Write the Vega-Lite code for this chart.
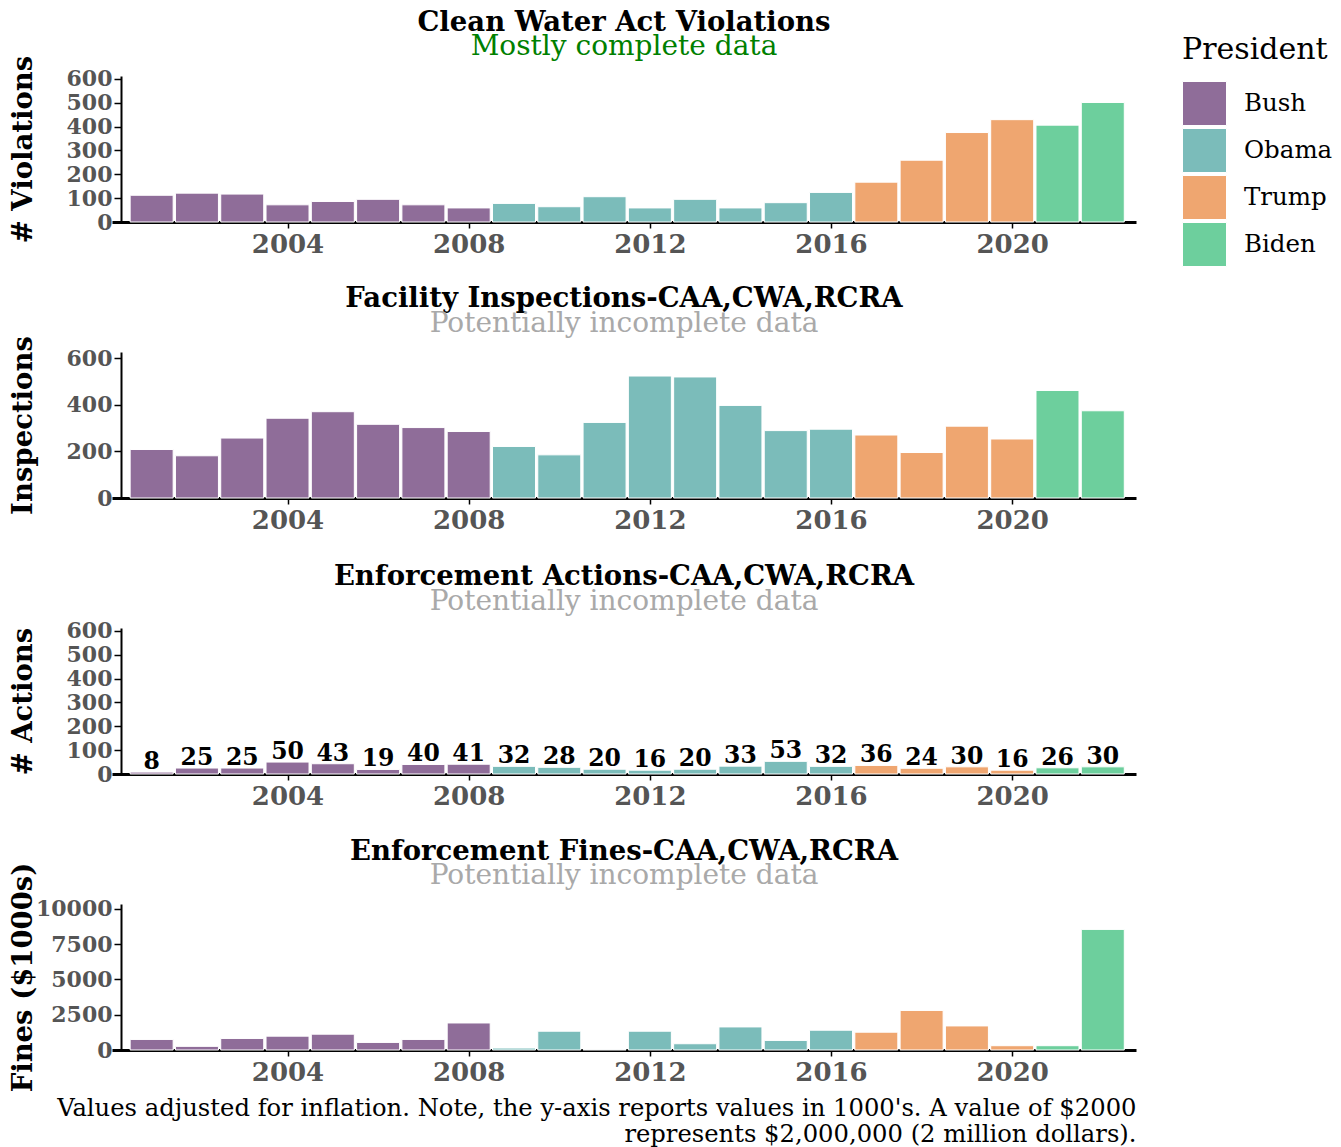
{
  "$schema": "https://vega.github.io/schema/vega-lite/v6.json",
  "background": "white",
  "padding": {"left": 9, "top": 8, "right": 5, "bottom": 2},
  "bounds": "flush",
  "spacing": 130,
  "data": {"values": [
    {"year": 2001, "president": "Bush", "violations": 112, "inspections": 208, "actions": 8, "fines": 748},
    {"year": 2002, "president": "Bush", "violations": 121, "inspections": 181, "actions": 25, "fines": 257},
    {"year": 2003, "president": "Bush", "violations": 117, "inspections": 257, "actions": 25, "fines": 818},
    {"year": 2004, "president": "Bush", "violations": 72, "inspections": 342, "actions": 50, "fines": 981},
    {"year": 2005, "president": "Bush", "violations": 86, "inspections": 370, "actions": 43, "fines": 1121},
    {"year": 2006, "president": "Bush", "violations": 95, "inspections": 316, "actions": 19, "fines": 537},
    {"year": 2007, "president": "Bush", "violations": 72, "inspections": 302, "actions": 40, "fines": 748},
    {"year": 2008, "president": "Bush", "violations": 59, "inspections": 285, "actions": 41, "fines": 1916},
    {"year": 2009, "president": "Obama", "violations": 78, "inspections": 221, "actions": 32, "fines": 140},
    {"year": 2010, "president": "Obama", "violations": 64, "inspections": 185, "actions": 28, "fines": 1332},
    {"year": 2011, "president": "Obama", "violations": 106, "inspections": 324, "actions": 20, "fines": 30},
    {"year": 2012, "president": "Obama", "violations": 59, "inspections": 523, "actions": 16, "fines": 1332},
    {"year": 2013, "president": "Obama", "violations": 95, "inspections": 519, "actions": 20, "fines": 444},
    {"year": 2014, "president": "Obama", "violations": 59, "inspections": 397, "actions": 33, "fines": 1636},
    {"year": 2015, "president": "Obama", "violations": 81, "inspections": 289, "actions": 53, "fines": 678},
    {"year": 2016, "president": "Obama", "violations": 124, "inspections": 295, "actions": 32, "fines": 1402},
    {"year": 2017, "president": "Trump", "violations": 167, "inspections": 270, "actions": 36, "fines": 1262},
    {"year": 2018, "president": "Trump", "violations": 259, "inspections": 195, "actions": 24, "fines": 2804},
    {"year": 2019, "president": "Trump", "violations": 375, "inspections": 308, "actions": 30, "fines": 1706},
    {"year": 2020, "president": "Trump", "violations": 429, "inspections": 253, "actions": 16, "fines": 304},
    {"year": 2021, "president": "Biden", "violations": 406, "inspections": 461, "actions": 26, "fines": 304},
    {"year": 2022, "president": "Biden", "violations": 501, "inspections": 374, "actions": 30, "fines": 8550}
  ]},
  "config": {
    "font": "DejaVu Serif",
    "view": {"stroke": null},
    "axis": {"grid": false, "domainColor": "black", "tickColor": "black", "labelColor": "#555555", "labelFont": "DejaVu Serif", "labelFontWeight": "bold", "titleFont": "DejaVu Serif", "titleFontWeight": "bold", "titleColor": "black", "titleFontSize": 27.5},
    "axisX": {"labelFontSize": 26, "domainWidth": 3, "tickSize": 6, "tickWidth": 1.5, "labelPadding": 3, "labelFlush": false},
    "axisY": {"labelFontSize": 22, "domainWidth": 2, "tickSize": 7, "tickWidth": 1.5, "labelPadding": 2, "offset": -9, "titleX": -98, "titleY": 73, "titleBaseline": "middle", "titleAngle": 270},
    "title": {"font": "DejaVu Serif", "fontSize": 27.5, "fontWeight": "bold", "color": "black", "subtitleFont": "DejaVu Serif", "subtitleFontSize": 28, "subtitlePadding": -3, "anchor": "middle", "frame": "group"}
  },
  "vconcat": [
    {
      "width": 1024, "height": 146,
      "title": {"text": "Clean Water Act Violations", "subtitle": "Mostly complete data", "subtitleColor": "#008000", "offset": -6},
      "mark": {"type": "bar", "width": 43, "stroke": "white", "strokeWidth": 1},
      "encoding": {
        "x": {"field": "year", "type": "quantitative", "scale": {"domain": [2000.235, 2022.623], "nice": false, "zero": false}, "axis": {"values": [2004, 2008, 2012, 2016, 2020], "format": "d", "title": null}},
        "y": {"field": "violations", "type": "quantitative", "scale": {"domain": [0, 612], "nice": false}, "axis": {"values": [0, 100, 200, 300, 400, 500, 600], "format": "d", "title": "# Violations"}},
        "color": {"field": "president", "type": "nominal", "scale": {"domain": ["Bush", "Obama", "Trump", "Biden"], "range": ["#8F6D99", "#7BBCBA", "#EFA670", "#6DCF9D"]},
          "legend": {"title": "President", "orient": "none", "legendX": 1070, "legendY": -41, "titleFontSize": 30, "titleFontWeight": "normal", "titleFont": "DejaVu Serif", "titleColor": "black", "labelFontSize": 24.5, "labelFont": "DejaVu Serif", "labelColor": "black", "symbolType": "square", "symbolSize": 1936, "symbolStrokeColor": "white", "symbolStrokeWidth": 1, "symbolOpacity": 1, "rowPadding": -2, "labelOffset": 17, "titlePadding": 16, "padding": 0}}
      }
    },
    {
      "width": 1024, "height": 146,
      "title": {"text": "Facility Inspections-CAA,CWA,RCRA", "subtitle": "Potentially incomplete data", "subtitleColor": "#a9a9a9", "offset": -2},
      "mark": {"type": "bar", "width": 43, "stroke": "white", "strokeWidth": 1},
      "encoding": {
        "x": {"field": "year", "type": "quantitative", "scale": {"domain": [2000.235, 2022.623], "nice": false, "zero": false}, "axis": {"values": [2004, 2008, 2012, 2016, 2020], "format": "d", "title": null}},
        "y": {"field": "inspections", "type": "quantitative", "scale": {"domain": [0, 626], "nice": false}, "axis": {"values": [0, 200, 400, 600], "format": "d", "title": "Inspections"}},
        "color": {"field": "president", "type": "nominal"}
      }
    },
    {
      "width": 1024, "height": 146,
      "title": {"text": "Enforcement Actions-CAA,CWA,RCRA", "subtitle": "Potentially incomplete data", "subtitleColor": "#a9a9a9", "offset": 4},
      "encoding": {
        "x": {"field": "year", "type": "quantitative", "scale": {"domain": [2000.235, 2022.623], "nice": false, "zero": false}, "axis": {"values": [2004, 2008, 2012, 2016, 2020], "format": "d", "title": null}},
        "y": {"field": "actions", "type": "quantitative", "scale": {"domain": [0, 612], "nice": false}, "axis": {"values": [0, 100, 200, 300, 400, 500, 600], "format": "d", "title": "# Actions"}}
      },
      "layer": [
        {"mark": {"type": "bar", "width": 43, "stroke": "white", "strokeWidth": 1}, "encoding": {"color": {"field": "president", "type": "nominal"}}},
        {"mark": {"type": "text", "font": "DejaVu Serif", "fontWeight": "bold", "fontSize": 23.5, "color": "black", "baseline": "alphabetic", "dy": -3}, "encoding": {"text": {"field": "actions", "type": "quantitative"}}}
      ]
    },
    {
      "width": 1024, "height": 146,
      "title": {"text": "Enforcement Fines-CAA,CWA,RCRA", "subtitle": "Potentially incomplete data", "subtitleColor": "#a9a9a9", "offset": -28},
      "mark": {"type": "bar", "width": 43, "stroke": "white", "strokeWidth": 1},
      "encoding": {
        "x": {"field": "year", "type": "quantitative", "scale": {"domain": [2000.235, 2022.623], "nice": false, "zero": false}, "axis": {"values": [2004, 2008, 2012, 2016, 2020], "format": "d", "title": ["Values adjusted for inflation. Note, the y-axis reports values in 1000's. A value of $2000", "represents $2,000,000 (2 million dollars)."], "titleAnchor": "end", "titleAlign": "right", "titleFontWeight": "normal", "titleFontSize": 24.25, "titleColor": "black", "titleLineHeight": 26, "titlePadding": 11}},
        "y": {"field": "fines", "type": "quantitative", "scale": {"domain": [0, 10350], "nice": false}, "axis": {"values": [0, 2500, 5000, 7500, 10000], "format": "d", "title": "Fines ($1000s)"}},
        "color": {"field": "president", "type": "nominal"}
      }
    }
  ]
}
